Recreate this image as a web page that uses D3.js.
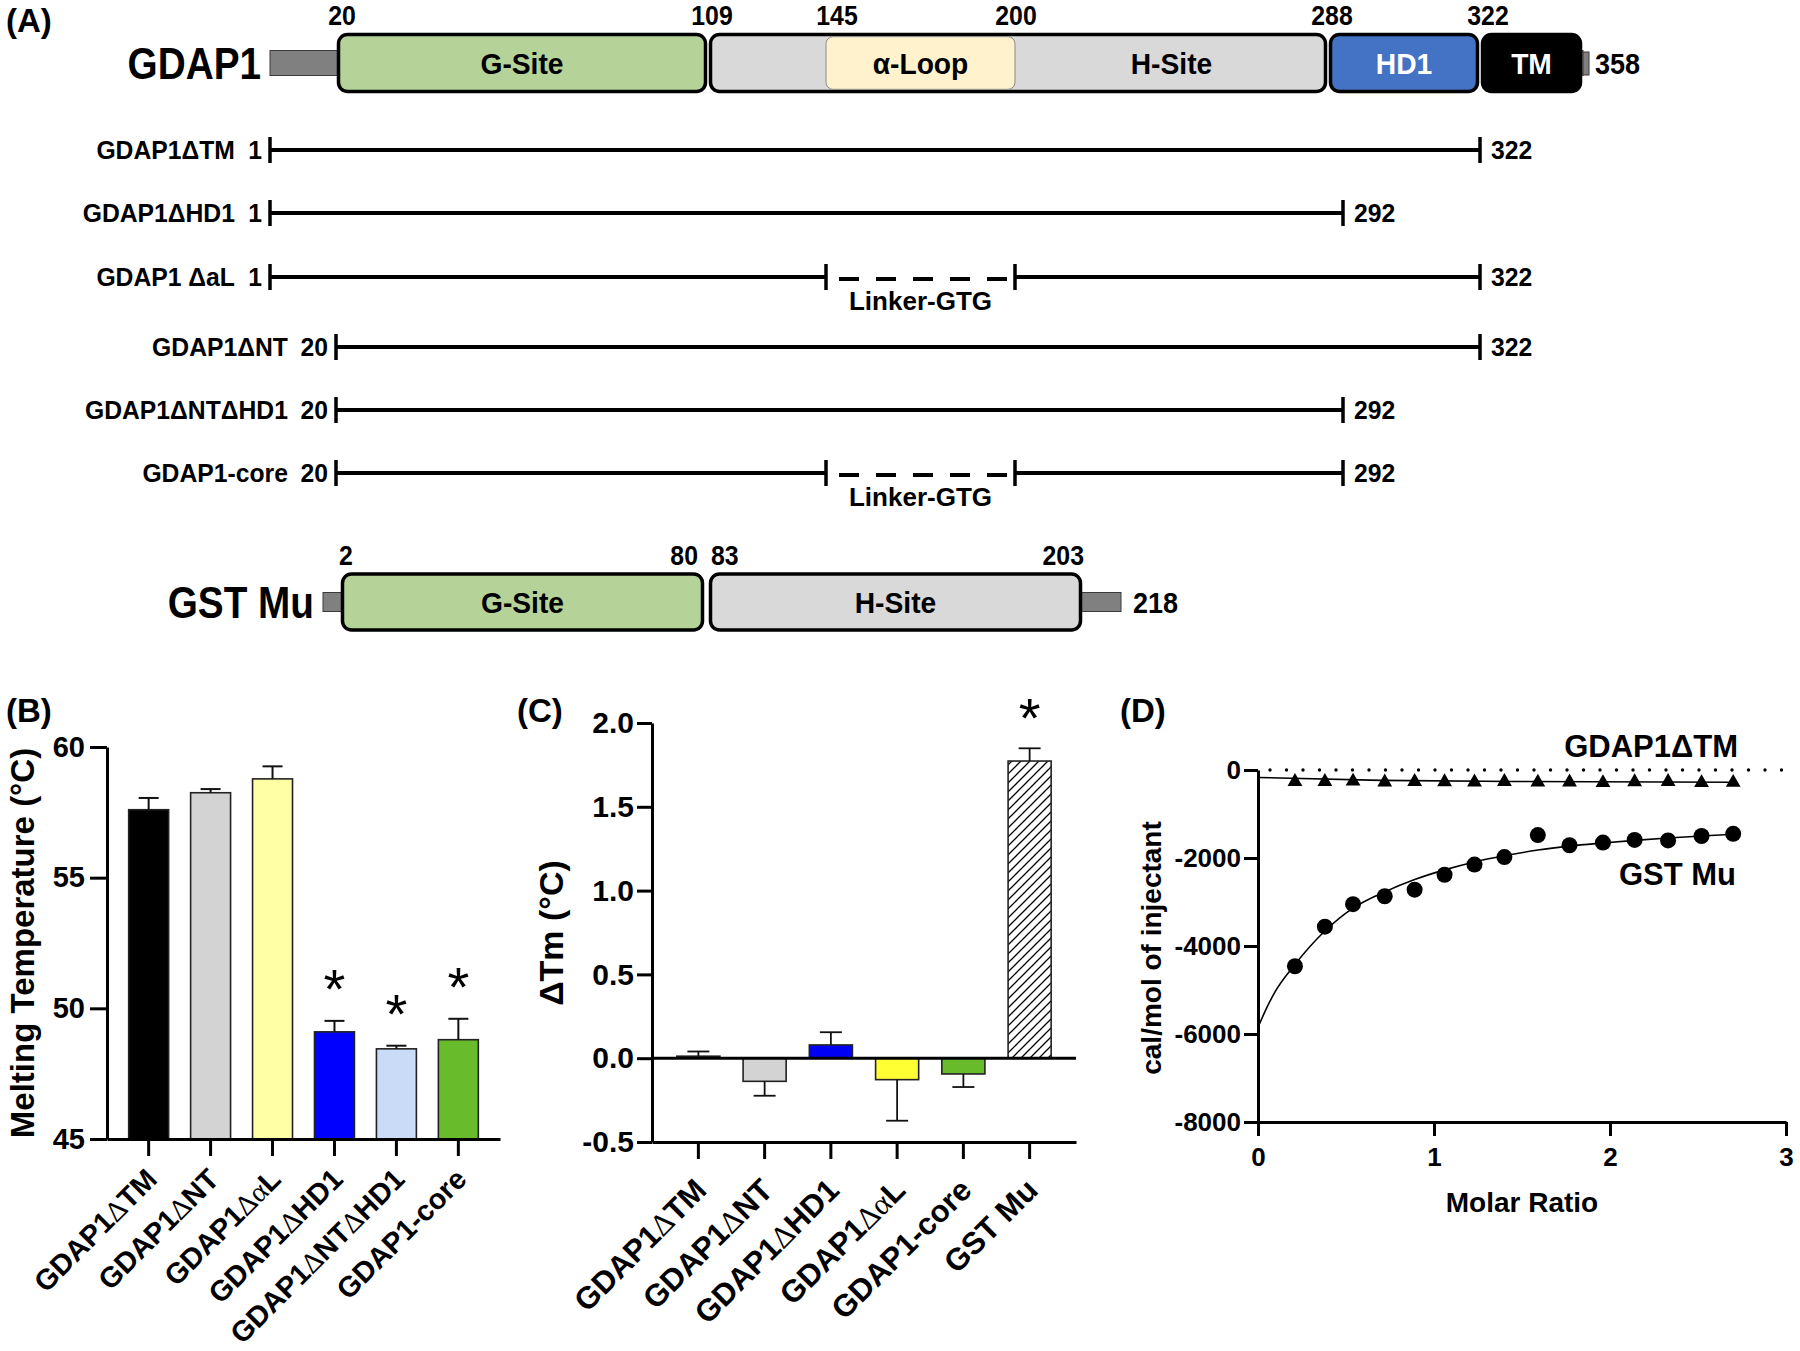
<!DOCTYPE html>
<html><head><meta charset="utf-8">
<script src="https://cdn.jsdelivr.net/npm/d3@7"></script>
<style>
body{margin:0;background:#fff}
svg{display:block;font-family:"Liberation Sans",Arial,Helvetica,sans-serif;font-weight:bold}
.greek{font-family:"Liberation Serif","DejaVu Serif",serif;font-weight:normal}
</style>
</head><body>
<svg id="fig" width="1800" height="1351"></svg>
<script>
// ================= DATA =================
// Panel A – GDAP1 domain map
const gdap1Domains = [
  {name:"G-Site", start:20,  end:109},
  {name:"H-Site", start:109, end:288},
  {name:"HD1",    start:288, end:322},
  {name:"TM",     start:322, end:358}
];
const gdap1SubDomains = [{name:"α-Loop", start:145, end:200}];
const gdap1Boundaries = [20, 109, 145, 200, 288, 322];
const gdap1Length = 358;
// Constructs
const constructNames  = ["GDAP1ΔTM","GDAP1ΔHD1","GDAP1 ΔaL","GDAP1ΔNT","GDAP1ΔNTΔHD1","GDAP1-core"];
const constructStart  = [1, 1, 1, 20, 20, 20];
const constructEnd    = [322, 292, 322, 322, 292, 292];
const constructLinker = [null, null, [145,200], null, null, [145,200]];
const linkerLabel = "Linker-GTG";
// GST Mu domain map
const gstDomains = [
  {name:"G-Site", start:2,  end:80},
  {name:"H-Site", start:83, end:203}
];
const gstBoundaries = [2, 80, 83, 203];
const gstLength = 218;

// Panel B – melting temperature
const tmCategories = ["GDAP1ΔTM","GDAP1ΔNT","GDAP1ΔαL","GDAP1ΔHD1","GDAP1ΔNTΔHD1","GDAP1-core"];
const tmValues     = [57.6, 58.25, 58.78, 49.1, 48.45, 48.8];
const tmErrors     = [0.45, 0.14, 0.48, 0.42, 0.12, 0.8];
const tmSignif     = [false, false, false, true, true, true];
const tmTicks      = [45, 50, 55, 60];

// Panel C – ΔTm
const dtmCategories = ["GDAP1ΔTM","GDAP1ΔNT","GDAP1ΔHD1","GDAP1ΔαL","GDAP1-core","GST Mu"];
const dtmValues     = [0.012, -0.138, 0.079, -0.128, -0.094, 1.773];
const dtmErrors     = [0.028, 0.086, 0.076, 0.245, 0.078, 0.076];
const dtmSignif     = [false, false, false, false, false, true];
const dtmTicks      = [-0.5, 0.0, 0.5, 1.0, 1.5, 2.0];

// Panel D – ITC
const molarRatio = [0.21, 0.38, 0.54, 0.72, 0.89, 1.06, 1.23, 1.40, 1.59, 1.77, 1.96, 2.14, 2.33, 2.52, 2.70];
const gdapHeat   = [-265, -265, -255, -275, -265, -270, -275, -265, -280, -275, -290, -270, -265, -290, -285];
const gstHeat    = [-4460, -3560, -3050, -2870, -2720, -2380, -2150, -1980, -1480, -1710, -1650, -1590, -1600, -1500, -1450];
const gstFitX    = [0, 0.05, 0.1, 0.21, 0.38, 0.54, 0.72, 0.89, 1.06, 1.23, 1.40, 1.59, 1.77, 1.96, 2.14, 2.33, 2.52, 2.70];
const gstFitY    = [-5850, -5400, -5020, -4420, -3660, -3140, -2770, -2490, -2270, -2090, -1950, -1820, -1730, -1660, -1600, -1545, -1500, -1460];
const gdapFitX   = [0, 0.7, 1.5, 2.70];
const gdapFitY   = [-170, -235, -262, -280];
const itcYTicks  = [0, -2000, -4000, -6000, -8000];
const itcXTicks  = [0, 1, 2, 3];
const seriesLabels = ["GDAP1ΔTM", "GST Mu"];

// ================= STYLE / LAYOUT =================
const domainFill = {"G-Site":"#B5D398","H-Site":"#D9D9D9","HD1":"#4472C4","TM":"#000000","α-Loop":"#FFF2CC"};
const domainText = {"HD1":"#fff","TM":"#fff"};
const tmColors  = ["#000000","#D3D3D3","#FFFFA6","#0000FF","#C9DBF7","#68BB2B"];
const dtmColors = ["#000000","#D3D3D3","#0000F5","#FFFF33","#68BB2B","url(#hatch)"];
const gdap1LabelLayout = [["middle",6],["middle",4],["middle",11],["middle",1],["middle",4],["middle",8]];
const gstLabelLayout   = [["start",-1],["end",-7],["start",3],["end",1]];
const hyphenFmt = f => d => f(d).replace("\u2212","-");

const svg = d3.select("#fig");
svg.append("rect").attr("width",1800).attr("height",1351).attr("fill","#fff");
const defs = svg.append("defs");
const pat = defs.append("pattern").attr("id","hatch").attr("patternUnits","userSpaceOnUse")
  .attr("width",9).attr("height",9);
pat.append("rect").attr("width",9).attr("height",9).attr("fill","#fff");
pat.append("path").attr("d","M-2,2 l4,-4 M0,9 l9,-9 M7,11 l4,-4").attr("stroke","#000").attr("stroke-width",1.3);

function greekText(sel, str){
  str.split(/([Δα])/).filter(p=>p.length).forEach(p=>{
    const t = sel.append("tspan").text(p);
    if (/^[Δα]$/.test(p)) t.attr("class","greek");
  });
}
function condense(sel, k){
  const w = sel.node().getComputedTextLength();
  sel.attr("textLength", w*k).attr("lengthAdjust","spacingAndGlyphs");
}
function panelLabel(txt, x, y){
  svg.append("text").attr("x",x).attr("y",y).attr("font-size",33).text(txt);
}
function styleAxis(g, fs){
  g.select(".domain").attr("stroke","#000").attr("stroke-width",3);
  g.selectAll(".tick line").attr("stroke","#000").attr("stroke-width",3);
  g.selectAll(".tick text").attr("font-size",fs).attr("font-weight","bold")
    .attr("font-family","Liberation Sans, Arial, sans-serif").attr("fill","#000");
}
function centerAt(textSel, cx, cy){
  const bb = textSel.node().getBBox();
  textSel.attr("transform",`translate(${cx-(bb.x+bb.width/2)},${cy-(bb.y+bb.height/2)})`);
}

// ================= PANEL A =================
panelLabel("(A)", 6, 32);
// schematic (not-to-scale) residue scales
const aX = d3.scaleLinear().domain([1,20,109,145,200,288,292,322,358])
  .range([270,336,708,826,1015,1328,1343,1480,1583]);
const gX = d3.scaleLinear().domain([1,2,80,83,203,218])
  .range([323,340,705,708,1083,1121]);

function drawMap(scale, domains, subs, boundaries, layout, len, cy, h, tailH, name, nTailStart, cTail){
  const g = svg.append("g");
  g.append("rect").attr("x",scale(nTailStart)).attr("y",cy-tailH/2)
    .attr("width",scale(domains[0].start)-scale(nTailStart)+4).attr("height",tailH)
    .attr("fill","#808080").attr("stroke","#3a3a3a").attr("stroke-width",1);
  g.append("rect").attr("x",scale(cTail[0])-4).attr("y",cy-tailH/2)
    .attr("width",scale(cTail[1])-scale(cTail[0])+4).attr("height",tailH)
    .attr("fill","#808080").attr("stroke","#3a3a3a").attr("stroke-width",1);
  const inset = 2.5;
  g.selectAll("rect.dom").data(domains).join("rect").attr("class","dom")
    .attr("x",d=>scale(d.start)+inset).attr("y",cy-h/2)
    .attr("width",d=>scale(d.end)-scale(d.start)-2*inset).attr("height",h)
    .attr("rx",9).attr("fill",d=>domainFill[d.name]).attr("stroke","#000").attr("stroke-width",3.5);
  g.selectAll("rect.sub").data(subs).join("rect").attr("class","sub")
    .attr("x",d=>scale(d.start)).attr("y",cy-h/2+2.2)
    .attr("width",d=>scale(d.end)-scale(d.start)).attr("height",h-4.4)
    .attr("rx",7).attr("fill",d=>domainFill[d.name]).attr("stroke","#8a8a8a").attr("stroke-width",1);
  const labelled = domains.map(d=>{
    let s=d.start, e=d.end;
    subs.forEach(sb=>{ if(sb.start>=d.start && sb.end<=d.end){
      if (sb.start-d.start > d.end-sb.end) e = sb.start; else s = sb.end; } });
    return {name:d.name, c:(scale(s)+scale(e))/2};
  }).concat(subs.map(sb=>({name:sb.name, c:(scale(sb.start)+scale(sb.end))/2})));
  g.selectAll("text.dl").data(labelled).join("text").attr("class","dl")
    .attr("x",d=>d.c).attr("y",cy).attr("dy","0.36em").attr("text-anchor","middle")
    .attr("font-size",30).attr("fill",d=>domainText[d.name]||"#000").text(d=>d.name)
    .each(function(){ condense(d3.select(this), 0.94); });
  g.selectAll("text.bn").data(boundaries).join("text").attr("class","bn")
    .attr("x",(d,i)=>scale(d)+layout[i][1])
    .attr("y",cy-h/2-9.5).attr("text-anchor",(d,i)=>layout[i][0])
    .attr("font-size",27).text(d=>d)
    .each(function(){ condense(d3.select(this), 0.92); });
  const lt = g.append("text").attr("x",scale(cTail[1])+12).attr("y",cy).attr("dy","0.36em")
    .attr("font-size",30).text(len);
  condense(lt, 0.9);
  const nt = g.append("text").attr("x",scale(nTailStart)-9).attr("y",cy).attr("dy","0.36em")
    .attr("text-anchor","end").attr("font-size",44).text(name);
  condense(nt, 0.88);
}
drawMap(aX, gdap1Domains, gdap1SubDomains, gdap1Boundaries, gdap1LabelLayout,
  gdap1Length, 63, 57, 25, "GDAP1", 1, [358,358]);
svg.append("rect").attr("x",aX(358)).attr("y",52).attr("width",6).attr("height",23)
  .attr("fill","#808080").attr("stroke","#3a3a3a").attr("stroke-width",1);
drawMap(gX, gstDomains, [], gstBoundaries, gstLabelLayout,
  gstLength, 602, 56, 19, "GST Mu", 1, [203,218]);

// constructs
const rowY = [150, 213, 277, 347, 410, 473];
const gc = svg.append("g");
constructNames.forEach((nm,i)=>{
  const y = rowY[i], x0 = aX(constructStart[i]), x1 = aX(constructEnd[i]);
  const lk = constructLinker[i];
  const segs = lk ? [[constructStart[i],lk[0]],[lk[1],constructEnd[i]]] : [[constructStart[i],constructEnd[i]]];
  segs.forEach(s=>gc.append("line").attr("x1",aX(s[0])).attr("x2",aX(s[1])).attr("y1",y).attr("y2",y)
    .attr("stroke","#000").attr("stroke-width",4));
  const ticks = [constructStart[i], constructEnd[i]].concat(lk?lk:[]);
  ticks.forEach(t=>gc.append("line").attr("x1",aX(t)).attr("x2",aX(t)).attr("y1",y-13).attr("y2",y+13)
    .attr("stroke","#000").attr("stroke-width",3.5));
  if (lk){
    gc.append("line").attr("x1",aX(lk[0])).attr("x2",aX(lk[1])).attr("y1",y+2).attr("y2",y+2)
      .attr("stroke","#000").attr("stroke-width",4).attr("stroke-dasharray","20,17").attr("stroke-dashoffset",24);
    gc.append("text").attr("x",(aX(lk[0])+aX(lk[1]))/2).attr("y",y+33).attr("text-anchor","middle")
      .attr("font-size",26).text(linkerLabel);
  }
  const num = gc.append("text").attr("x",x0-8).attr("y",y).attr("dy","0.36em").attr("text-anchor","end")
    .attr("font-size",26).text(constructStart[i]);
  condense(num, 0.95);
  const nw = num.node().getComputedTextLength()*0.95;
  const nt = gc.append("text").attr("x",x0-8-nw-14).attr("y",y).attr("dy","0.36em").attr("text-anchor","end")
    .attr("font-size",26).text(nm);
  condense(nt, 0.95);
  const et = gc.append("text").attr("x",x1+11).attr("y",y).attr("dy","0.36em").attr("font-size",26).text(constructEnd[i]);
  condense(et, 0.95);
});

// ================= PANEL B =================
panelLabel("(B)", 6, 722);
const bX = d3.scaleBand().domain(tmCategories).range([107,500]).paddingInner(0.355).paddingOuter(0.35);
const bY = d3.scaleLinear().domain([45,60]).range([1139,747]);
const gB = svg.append("g");
gB.selectAll("rect.bar").data(tmValues).join("rect").attr("class","bar")
  .attr("x",(d,i)=>bX(tmCategories[i])).attr("width",bX.bandwidth())
  .attr("y",d=>bY(d)).attr("height",d=>bY(45)-bY(d))
  .attr("fill",(d,i)=>tmColors[i]).attr("stroke","#222").attr("stroke-width",1.6);
tmValues.forEach((v,i)=>{
  const cx = bX(tmCategories[i])+bX.bandwidth()/2, top = bY(v+tmErrors[i]);
  gB.append("line").attr("x1",cx).attr("x2",cx).attr("y1",bY(v)).attr("y2",top).attr("stroke","#111").attr("stroke-width",2);
  gB.append("line").attr("x1",cx-10).attr("x2",cx+10).attr("y1",top).attr("y2",top).attr("stroke","#111").attr("stroke-width",2);
  if (tmSignif[i]){
    const t = gB.append("text").attr("font-size",56).attr("font-weight","normal").text("*");
    centerAt(t, cx, top-32);
  }
});
gB.append("g").attr("transform","translate(107,0)")
  .call(d3.axisLeft(bY).tickValues(tmTicks).tickSize(17).tickPadding(5).tickSizeOuter(0))
  .call(g=>styleAxis(g,29));
gB.append("g").attr("transform","translate(0,1139)")
  .call(d3.axisBottom(bX).tickSize(17).tickSizeOuter(0).tickFormat(""))
  .call(g=>styleAxis(g,29));
tmCategories.forEach(c=>{
  const t = gB.append("text").attr("text-anchor","end").attr("font-size",28.8)
    .attr("transform",`translate(${bX(c)+bX.bandwidth()/2+10},${1139+42}) rotate(-45)`);
  greekText(t, c);
});
gB.append("text").attr("transform","translate(34,943) rotate(-90)").attr("text-anchor","middle")
  .attr("font-size",33).text("Melting Temperature (°C)");

// ================= PANEL C =================
panelLabel("(C)", 517, 722);
const cX = d3.scaleBand().domain(dtmCategories).range([652,1076]).paddingInner(0.35).paddingOuter(0.375);
const cY = d3.scaleLinear().domain([-0.5,2]).range([1142,723]);
const gC = svg.append("g");
gC.selectAll("rect.bar").data(dtmValues).join("rect").attr("class","bar")
  .attr("x",(d,i)=>cX(dtmCategories[i])).attr("width",cX.bandwidth())
  .attr("y",d=>cY(Math.max(0,d))).attr("height",d=>Math.abs(cY(d)-cY(0)))
  .attr("fill",(d,i)=>dtmColors[i]).attr("stroke","#222").attr("stroke-width",1.6);
dtmValues.forEach((v,i)=>{
  const cx = cX(dtmCategories[i])+cX.bandwidth()/2;
  const end = cY(v + Math.sign(v||1)*dtmErrors[i]);
  gC.append("line").attr("x1",cx).attr("x2",cx).attr("y1",cY(v)).attr("y2",end).attr("stroke","#111").attr("stroke-width",1.8);
  gC.append("line").attr("x1",cx-11).attr("x2",cx+11).attr("y1",end).attr("y2",end).attr("stroke","#111").attr("stroke-width",1.8);
  if (dtmSignif[i]){
    const t = gC.append("text").attr("font-size",56).attr("font-weight","normal").text("*");
    centerAt(t, cx, end-31);
  }
});
gC.append("line").attr("x1",652).attr("x2",1076).attr("y1",cY(0)).attr("y2",cY(0)).attr("stroke","#000").attr("stroke-width",3);
gC.append("g").attr("transform","translate(652,0)")
  .call(d3.axisLeft(cY).tickValues(dtmTicks).tickSize(15).tickPadding(3).tickSizeOuter(0).tickFormat(hyphenFmt(d3.format(".1f"))))
  .call(g=>styleAxis(g,30));
gC.append("g").attr("transform","translate(0,1142)")
  .call(d3.axisBottom(cX).tickSize(17).tickSizeOuter(0).tickFormat(""))
  .call(g=>styleAxis(g,30));
dtmCategories.forEach(c=>{
  const t = gC.append("text").attr("text-anchor","end").attr("font-size",31)
    .attr("transform",`translate(${cX(c)+cX.bandwidth()/2+10},${1142+50}) rotate(-45)`);
  greekText(t, c);
});
gC.append("text").attr("transform","translate(563,933) rotate(-90)").attr("text-anchor","middle")
  .attr("font-size",34).text("ΔTm (°C)");

// ================= PANEL D =================
panelLabel("(D)", 1120, 722);
const dX = d3.scaleLinear().domain([0,3]).range([1258,1786]);
const dY = d3.scaleLinear().domain([-8000,0]).range([1122,770]);
const gD = svg.append("g");
gD.append("line").attr("x1",dX(0)+12).attr("x2",1797).attr("y1",dY(0)).attr("y2",dY(0))
  .attr("stroke","#000").attr("stroke-width",3.4).attr("stroke-linecap","round").attr("stroke-dasharray","0,16.5");
const line = d3.line().x(d=>dX(d[0])).y(d=>dY(d[1])).curve(d3.curveMonotoneX);
gD.append("path").attr("d",line(gstFitX.map((x,i)=>[x,gstFitY[i]]))).attr("fill","none").attr("stroke","#000").attr("stroke-width",1.6);
gD.append("path").attr("d",line(gdapFitX.map((x,i)=>[x,gdapFitY[i]]))).attr("fill","none").attr("stroke","#000").attr("stroke-width",1.6);
gD.selectAll("circle.pt").data(gstHeat).join("circle").attr("class","pt")
  .attr("cx",(d,i)=>dX(molarRatio[i])).attr("cy",d=>dY(d)).attr("r",8).attr("fill","#000");
const tri = d3.symbol().type(d3.symbolTriangle).size(95);
gD.selectAll("path.tri").data(gdapHeat).join("path").attr("class","tri")
  .attr("transform",(d,i)=>`translate(${dX(molarRatio[i])},${dY(d)})`).attr("d",tri).attr("fill","#000");
gD.append("g").attr("transform","translate(1258,0)")
  .call(d3.axisLeft(dY).tickValues(itcYTicks).tickSize(14).tickPadding(3).tickSizeOuter(0).tickFormat(d=>String(d)))
  .call(g=>styleAxis(g,26));
gD.append("g").attr("transform","translate(0,1122)")
  .call(d3.axisBottom(dX).tickValues(itcXTicks).tickSize(14).tickPadding(12).tickSizeOuter(0).tickFormat(d=>String(d)))
  .call(g=>styleAxis(g,26));
gD.append("text").attr("x",dX(1.5)).attr("y",1212).attr("text-anchor","middle").attr("font-size",28).text("Molar Ratio");
gD.append("text").attr("transform","translate(1161,948) rotate(-90)").attr("text-anchor","middle")
  .attr("font-size",28).text("cal/mol of injectant");
gD.append("text").attr("x",1738).attr("y",757).attr("text-anchor","end").attr("font-size",31).text(seriesLabels[0]);
gD.append("text").attr("x",1736).attr("y",885).attr("text-anchor","end").attr("font-size",31).text(seriesLabels[1]);
</script>
</body></html>
